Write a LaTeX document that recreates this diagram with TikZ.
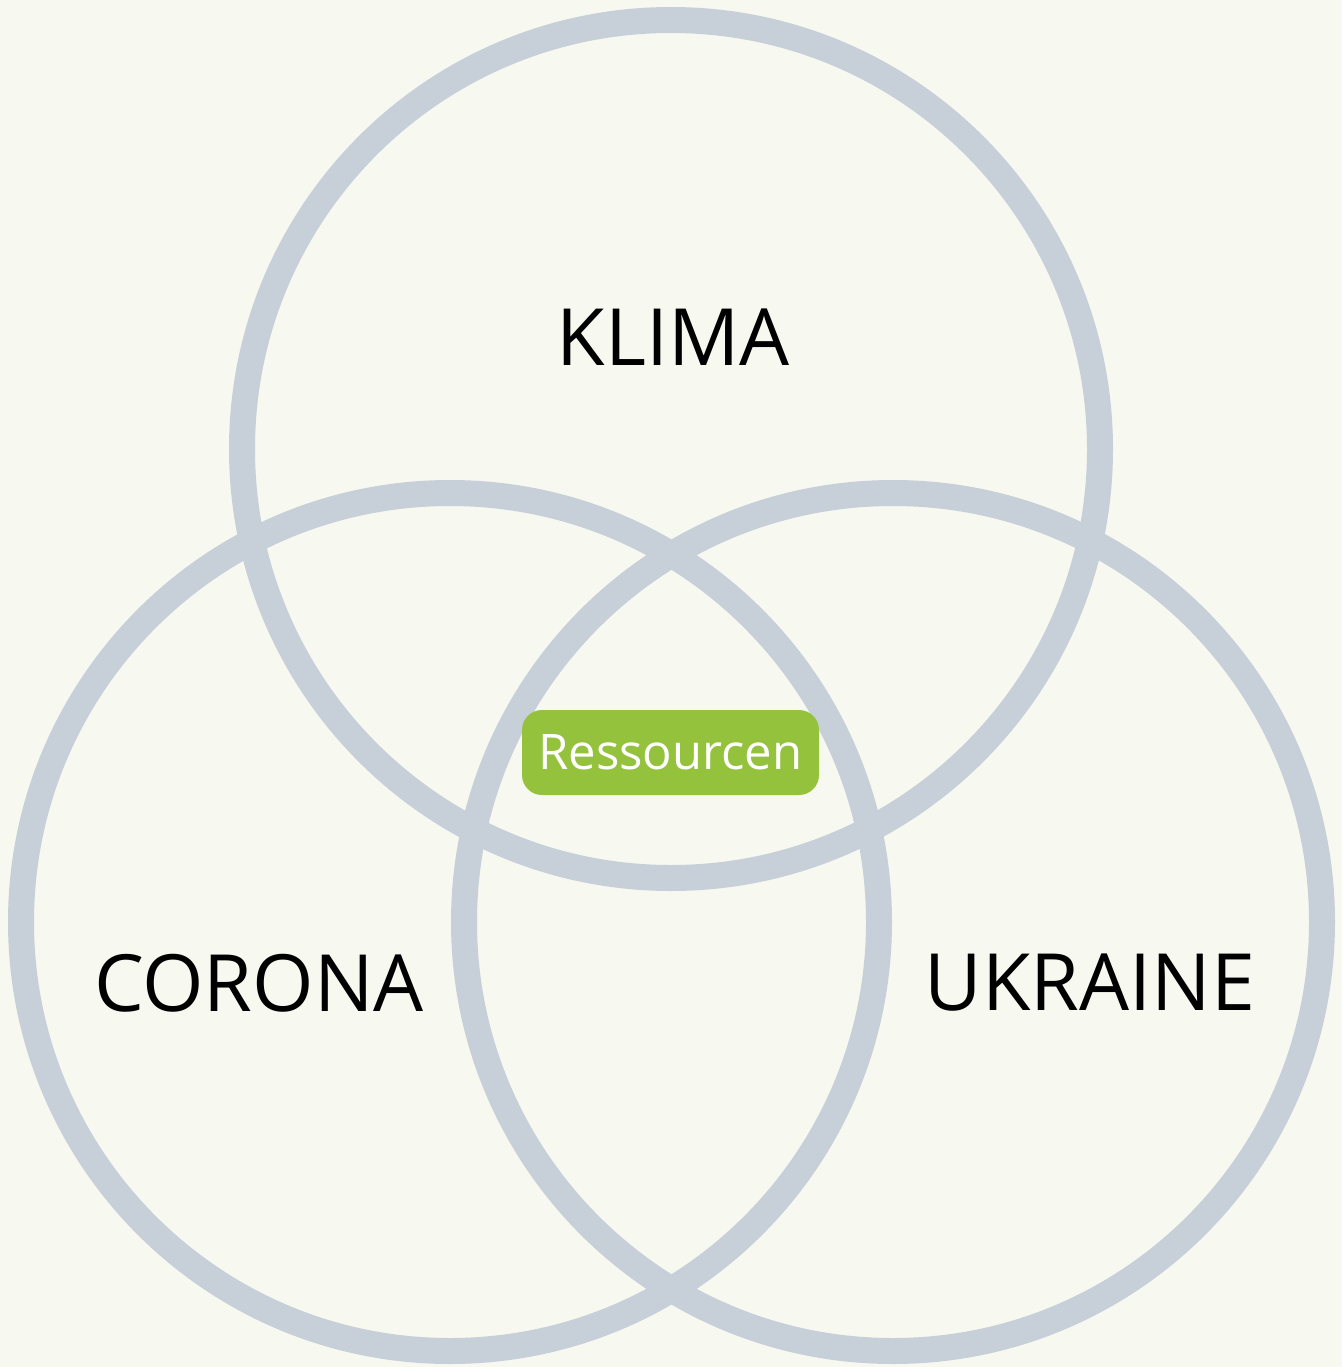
\documentclass[tikz,border=0pt]{standalone}
\usepackage{fontspec}
\setmainfont{Open Sans}
\definecolor{bgcream}{HTML}{F7F8F0}
\definecolor{ringgrey}{HTML}{C7CFD9}
\definecolor{leafgreen}{HTML}{95C23D}

\begin{document}
\begin{tikzpicture}[x=1pt, y=-1pt, line width=26pt,
    ring/.style={draw=ringgrey},
    topic/.style={font=\fontsize{79}{95}\selectfont, text=black},
    tag/.style={fill=leafgreen, rounded corners=20pt, text=white,
      font=\fontsize{49}{58}\selectfont, minimum width=297pt, minimum height=85pt}]
  \fill[bgcream] (0,0) rectangle (1342,1367);
  \useasboundingbox (0,0) rectangle (1342,1367);
  \coordinate (klima) at (671,449);
  \coordinate (corona) at (450,922);
  \coordinate (ukraine) at (893,922);
  \draw[ring] (klima) circle[radius=429];
  \draw[ring] (corona) circle[radius=429];
  \draw[ring] (ukraine) circle[radius=429];
  \node[topic] (klimatext) at (673,337) {KLIMA};
  \node[topic] (coronatext) at (259,983) {CORONA};
  \node[topic] (ukrainetext) at (1090,983) {UKRAINE};
  \node[tag] (ressourcen) at (670.5,752.5) {\raisebox{-1pt}{Ressourcen}};
\end{tikzpicture}
\end{document}
